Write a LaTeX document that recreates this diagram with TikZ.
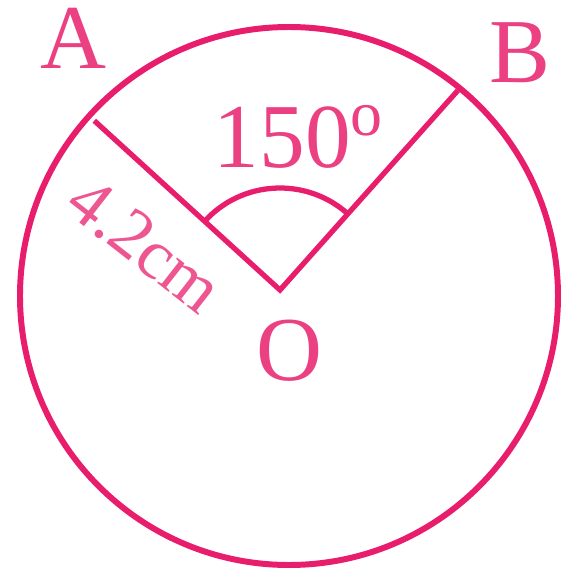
\documentclass[tikz,border=0pt]{standalone}
\usepackage{fontspec}
\setmainfont{Liberation Serif}
\usepackage{xcolor}
\usepackage{tikz}
\usetikzlibrary{positioning,calc}

\definecolor{rosered}{RGB}{232,30,108}

\begin{document}
\begin{tikzpicture}[
    rim/.style={draw=rosered, line width=1.7pt},
    radius line/.style={draw=rosered, line width=1.5pt},
    pointlabel/.style={text=rosered!85, font=\fontsize{26}{30}\selectfont, inner sep=0pt, anchor=base},
    sizelabel/.style={text=rosered!75, font=\fontsize{20}{24}\selectfont, inner sep=0pt}
]

\useasboundingbox (0,0) rectangle (5.63,5.88);

% Circle and its points
\coordinate (C) at (2.89,2.92);
\coordinate (O) at (2.80,2.98);
\coordinate (A) at ($(C)+(138:2.62)$);
\coordinate (B) at ($(C)+(50.6:2.66)$);
\draw[rim] (C) circle (2.69);

% Radii and angle arc
\draw[radius line] (A) -- (O) -- (B);
\draw[radius line] ($(O)+(48.5:1.02)$) arc (48.5:137.8:1.02);

% Labels
\node[pointlabel] (lblA) at (0.73,5.20) {A};
\node[pointlabel] (lblB) at (5.20,5.06) {B};
\node[pointlabel] (lblO) at (2.89,2.08) {O};
\node[pointlabel, anchor=base west] (angle) at (2.13,4.21) {150$^{\mathrm{o}}$};
\node[sizelabel, rotate=-38] (radius) at (1.45,3.43) {4.2cm};

\end{tikzpicture}
\end{document}
